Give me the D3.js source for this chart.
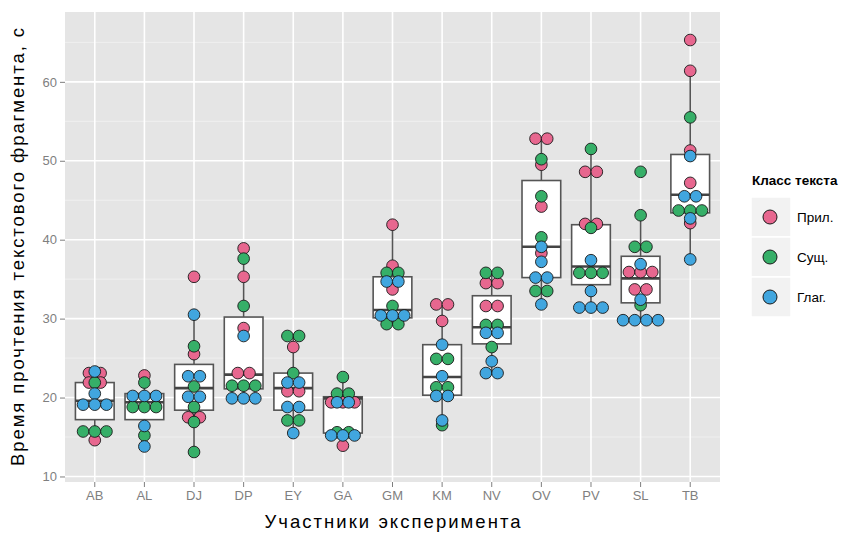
<!DOCTYPE html>
<html>
<head>
<meta charset="utf-8">
<script src="https://cdn.jsdelivr.net/npm/d3@7"></script>
<style>
  html, body { margin: 0; padding: 0; background: #ffffff; }
  svg { display: block; }
  text { font-family: "Liberation Sans", Arial, Helvetica, sans-serif; }
</style>
</head>
<body>
<svg id="chart" width="860" height="534"></svg>
<script>
// Participants (x axis)
const participants = ["AB","AL","DJ","DP","EY","GA","GM","KM","NV","OV","PV","SL","TB"];

// Text classes, legend order and fills
const textClasses = ["Прил.", "Сущ.", "Глаг."];
const classColors = ["#E7678F", "#36AF68", "#41A6DF"];

// Reading times (s) per participant, one list per text class
const adjTimes = [
  [23.1, 23.1, 21.9, 21.9, 14.6],
  [22.8],
  [35.3, 25.5, 17.5, 17.5],
  [38.9, 35.3, 28.8, 23.1, 23.1],
  [26.4, 20.8, 20.8],
  [19.4, 19.4, 19.4, 13.9],
  [41.9, 36.7, 33.7],
  [31.8, 31.8, 29.7],
  [34.5, 34.5, 31.6, 31.6],
  [52.8, 52.8, 49.5, 44.2, 38.3],
  [48.6, 48.6, 42.0, 42.0],
  [35.9, 35.9, 35.9, 33.7, 33.7],
  [65.3, 61.4, 51.3, 47.2, 42.1]
];
const nounTimes = [
  [21.9, 15.7, 15.7, 15.7],
  [21.9, 18.8, 18.8, 18.8, 15.2],
  [26.5, 21.4, 18.8, 16.9, 13.1],
  [37.6, 31.6, 21.5, 21.5, 21.5],
  [27.8, 27.8, 23.1, 17.1, 17.1],
  [22.6, 20.5, 20.5, 15.6, 15.6],
  [35.8, 35.8, 31.6, 29.3, 29.3],
  [24.9, 24.9, 21.3, 21.3, 16.5],
  [35.8, 35.8, 29.2, 29.2, 26.4],
  [50.2, 45.5, 40.3, 33.5, 33.5],
  [51.5, 41.5, 35.8, 35.8, 35.8],
  [48.6, 43.1, 39.1, 39.1, 31.7],
  [55.5, 43.7, 43.7, 43.7]
];
const verbTimes = [
  [23.3, 20.5, 19.1, 19.1, 19.1],
  [20.2, 20.2, 20.2, 16.4, 13.8],
  [30.5, 22.7, 22.7, 20.1, 20.1],
  [27.8, 19.9, 19.9, 19.9],
  [21.9, 21.9, 18.8, 18.8, 15.5],
  [19.4, 19.4, 15.2, 15.2, 15.2],
  [34.7, 34.7, 30.4, 30.4, 30.4],
  [26.7, 22.7, 20.2, 20.2, 17.1],
  [28.2, 28.2, 24.6, 23.1, 23.1],
  [39.1, 37.2, 35.2, 35.2, 31.8],
  [37.4, 33.5, 31.4, 31.4, 31.4],
  [36.9, 32.4, 29.8, 29.8, 29.8, 29.8],
  [50.6, 45.5, 45.5, 42.7, 37.5]
];

// Box plot statistics per participant
const whiskerLow  = [14.6, 13.8, 13.1, 19.9, 15.5, 13.9, 29.3, 16.5, 23.1, 31.8, 31.4, 29.8, 37.5];
const quartile1   = [17.2, 17.2, 18.4, 21.1, 18.4, 15.5, 30.1, 20.3, 26.8, 35.2, 34.3, 32.0, 43.4];
const medians     = [19.6, 19.4, 21.2, 22.9, 21.2, 19.9, 31.1, 22.6, 28.9, 39.1, 36.6, 35.1, 45.7];
const quartile3   = [21.9, 20.5, 24.2, 30.2, 23.1, 20.1, 35.3, 26.7, 32.9, 47.5, 41.9, 37.9, 50.8];
const whiskerHigh = [23.3, 22.8, 30.5, 38.9, 27.8, 22.6, 41.9, 31.8, 35.8, 52.8, 51.5, 43.1, 61.4];

const yTicks = [10, 20, 30, 40, 50, 60];
const yMinorTicks = [15, 25, 35, 45, 55, 65];

const xTitle = "Участники эксперимента";
const yTitle = "Время прочтения текстового фрагмента, с";
const legendTitle = "Класс текста";

// ---- layout ----
const panel = { left: 65, right: 720, top: 12, bottom: 482 };
const svg = d3.select("#chart");

const x = d3.scaleBand()
  .domain(participants)
  .range([panel.left, panel.right])
  .paddingInner(0)
  .paddingOuter(0.1);
const xc = p => x(p) + x.bandwidth() / 2;

const y = d3.scaleLinear()
  .domain([9.3, 68.85])
  .range([panel.bottom, panel.top]);

const binWidth = 1.48;                      // dot diameter in data units
const dotDia = y(0) - y(binWidth);
const boxWidth = x.step() * 0.78;

// panel background and grid
svg.append("rect")
  .attr("x", panel.left).attr("y", panel.top)
  .attr("width", panel.right - panel.left).attr("height", panel.bottom - panel.top)
  .attr("fill", "#E5E5E5");

const grid = svg.append("g");
grid.selectAll("line.minor").data(yMinorTicks).join("line")
  .attr("x1", panel.left).attr("x2", panel.right)
  .attr("y1", d => y(d)).attr("y2", d => y(d))
  .attr("stroke", "#F2F2F2").attr("stroke-width", 0.8);
grid.selectAll("line.majory").data(yTicks).join("line")
  .attr("x1", panel.left).attr("x2", panel.right)
  .attr("y1", d => y(d)).attr("y2", d => y(d))
  .attr("stroke", "#FFFFFF").attr("stroke-width", 1.6);
grid.selectAll("line.majorx").data(participants).join("line")
  .attr("x1", d => xc(d)).attr("x2", d => xc(d))
  .attr("y1", panel.top).attr("y2", panel.bottom)
  .attr("stroke", "#FFFFFF").attr("stroke-width", 1.6);

// axes
const yAxis = d3.axisLeft(y).tickValues(yTicks).tickSize(5).tickPadding(3);
const gy = svg.append("g").attr("transform", `translate(${panel.left},0)`).call(yAxis);
const xAxis = d3.axisBottom(x).tickSize(5).tickPadding(4);
const gx = svg.append("g").attr("transform", `translate(0,${panel.bottom})`).call(xAxis);
[gx, gy].forEach(g => {
  g.select(".domain").remove();
  g.selectAll(".tick line").attr("stroke", "#7F7F7F").attr("stroke-width", 1);
  g.selectAll(".tick text").attr("fill", "#7F7F7F").attr("font-size", 13)
    .attr("font-family", "'Liberation Sans', Arial, sans-serif");
});

// box plots
const boxes = participants.map((p, i) => ({
  p, lo: whiskerLow[i], q1: quartile1[i], med: medians[i], q3: quartile3[i], hi: whiskerHigh[i]
}));
const boxColor = "#555555";
const gb = svg.append("g");
const bg = gb.selectAll("g").data(boxes).join("g");
bg.append("line")
  .attr("x1", d => xc(d.p)).attr("x2", d => xc(d.p))
  .attr("y1", d => y(d.hi)).attr("y2", d => y(d.q3))
  .attr("stroke", boxColor).attr("stroke-width", 1.6);
bg.append("line")
  .attr("x1", d => xc(d.p)).attr("x2", d => xc(d.p))
  .attr("y1", d => y(d.q1)).attr("y2", d => y(d.lo))
  .attr("stroke", boxColor).attr("stroke-width", 1.6);
bg.append("rect")
  .attr("x", d => xc(d.p) - boxWidth / 2).attr("width", boxWidth)
  .attr("y", d => y(d.q3)).attr("height", d => y(d.q1) - y(d.q3))
  .attr("fill", "#FFFFFF").attr("stroke", boxColor).attr("stroke-width", 1.6);
bg.append("line")
  .attr("x1", d => xc(d.p) - boxWidth / 2).attr("x2", d => xc(d.p) + boxWidth / 2)
  .attr("y1", d => y(d.med)).attr("y2", d => y(d.med))
  .attr("stroke", "#444444").attr("stroke-width", 2.6);

// centred dot stacks, one stack per participant, class and bin
const classSeries = [adjTimes, nounTimes, verbTimes];
const dots = [];
participants.forEach((p, i) => {
  classSeries.forEach((series, c) => {
    const bins = d3.rollup(series[i], v => v.length, v => v);
    bins.forEach((n, value) => {
      for (let k = 0; k < n; k++) {
        dots.push({ p, c, value, offset: (k - (n - 1) / 2) * dotDia });
      }
    });
  });
});
svg.append("g").selectAll("circle").data(dots).join("circle")
  .attr("cx", d => xc(d.p) + d.offset)
  .attr("cy", d => y(d.value))
  .attr("r", dotDia / 2)
  .attr("fill", d => classColors[d.c])
  .attr("stroke", "#1a1a1a").attr("stroke-width", 0.9);

// axis titles
svg.append("text")
  .attr("x", (panel.left + panel.right) / 2).attr("y", 528)
  .attr("text-anchor", "middle").attr("font-size", 18.5).attr("fill", "#000")
  .attr("textLength", 256).attr("lengthAdjust", "spacing")
  .text(xTitle);
svg.append("text")
  .attr("transform", `translate(24,${(panel.top + panel.bottom) / 2}) rotate(-90)`)
  .attr("text-anchor", "middle").attr("font-size", 18.5).attr("fill", "#000")
  .attr("textLength", 438).attr("lengthAdjust", "spacing")
  .text(yTitle);

// legend
const legend = svg.append("g");
legend.append("text")
  .attr("x", 752).attr("y", 185)
  .attr("font-size", 13.5).attr("font-weight", "bold").attr("fill", "#000")
  .text(legendTitle);
const keyH = 40, keyTop = 197;
const keys = legend.selectAll("g.key").data(textClasses).join("g")
  .attr("transform", (d, i) => `translate(751,${keyTop + i * keyH})`);
keys.append("rect")
  .attr("width", 40).attr("height", keyH)
  .attr("fill", "#F2F2F2").attr("stroke", "#FFFFFF").attr("stroke-width", 1.5);
keys.append("circle")
  .attr("cx", 19).attr("cy", keyH / 2).attr("r", 7)
  .attr("fill", (d, i) => classColors[i])
  .attr("stroke", "#1a1a1a").attr("stroke-width", 1);
keys.append("text")
  .attr("x", 46).attr("y", keyH / 2 + 5)
  .attr("font-size", 13.5).attr("fill", "#000")
  .text(d => d);
</script>
</body>
</html>
